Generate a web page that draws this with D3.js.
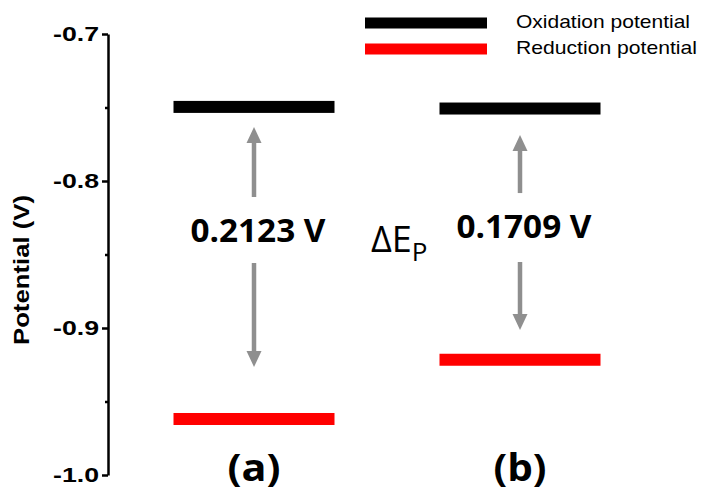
<!DOCTYPE html>
<html>
<head>
<meta charset="utf-8">
<script src="https://cdn.jsdelivr.net/npm/d3@7"></script>
<style>
  body { margin: 0; background: #fff; }
  svg { display: block; }
</style>
</head>
<body>
<svg id="chart" width="701" height="493"></svg>
<script>
// Samples and their peak potentials (V)
const samples = ["(a)", "(b)"];
const oxidation = [-0.7496, -0.7507];
const reduction = [-0.9619, -0.9216];
const deltaLabels = ["0.2123 V", "0.1709 V"];

// Double-arrow annotation extents (V): arrow tips and the gap left for the label
const arrowUpTip = [-0.7633, -0.7687];
const arrowDownTip = [-0.9265, -0.9014];
const gapTop = [-0.8109, -0.8082];
const gapBottom = [-0.8558, -0.8551];
const labelLevel = [-0.8415, -0.8388];

// Axis ticks
const yTicks = [-1.0, -0.9, -0.8, -0.7];
const yMinorTicks = [-0.95, -0.85, -0.75];
const yDomain = [-1.0, -0.7];

// Legend entries
const legendNames = ["Oxidation potential", "Reduction potential"];
const legendColors = ["#000000", "#ff0000"];

const svg = d3.select("#chart");

const y = d3.scaleLinear().domain(yDomain).range([475, 34]);
const x = d3.scalePoint().domain(samples).range([254, 520]);
const barWidth = 161;
const barHeight = 12;
const axisX = 108;
const arrowColor = "#8f8f8f";

// Y axis
const axisG = svg.append("g").attr("transform", `translate(${axisX},0)`);
axisG.call(
  d3.axisLeft(y)
    .tickValues(yTicks)
    .tickSize(6)
    .tickSizeOuter(0)
    .tickPadding(3)
    .tickFormat(d => d.toFixed(1))
);
axisG.select(".domain").attr("stroke", "#000").attr("stroke-width", 2.5);
axisG.selectAll(".tick line").attr("stroke", "#000").attr("stroke-width", 2.5);
axisG.selectAll(".tick text")
  .attr("fill", "#000")
  .style("font-family", "'Liberation Sans', Arial, sans-serif")
  .style("font-weight", "bold")
  .style("font-size", "21px")
  .attr("textLength", 46)
  .attr("lengthAdjust", "spacingAndGlyphs");

// Minor ticks
const minorG = svg.append("g").attr("transform", `translate(${axisX},0)`);
minorG.call(d3.axisLeft(y).tickValues(yMinorTicks).tickSize(3).tickSizeOuter(0).tickFormat(""));
minorG.select(".domain").remove();
minorG.selectAll(".tick line").attr("stroke", "#000").attr("stroke-width", 2.5);

// Y title
svg.append("text")
  .attr("transform", "translate(29,270) rotate(-90)")
  .attr("text-anchor", "middle")
  .style("font-family", "'Liberation Sans', Arial, sans-serif")
  .style("font-weight", "bold")
  .style("font-size", "22px")
  .attr("textLength", 150)
  .attr("lengthAdjust", "spacingAndGlyphs")
  .text("Potential (V)");

// Potential levels
const rows = samples.map((s, i) => ({
  s, ox: oxidation[i], red: reduction[i], label: deltaLabels[i],
  up: arrowUpTip[i], down: arrowDownTip[i], gt: gapTop[i], gb: gapBottom[i], lv: labelLevel[i]
}));

svg.selectAll("rect.ox").data(rows).join("rect")
  .attr("class", "ox")
  .attr("x", d => x(d.s) - barWidth / 2)
  .attr("y", d => y(d.ox) - barHeight / 2)
  .attr("width", barWidth)
  .attr("height", barHeight)
  .attr("fill", legendColors[0]);

svg.selectAll("rect.red").data(rows).join("rect")
  .attr("class", "red")
  .attr("x", d => x(d.s) - barWidth / 2)
  .attr("y", d => y(d.red) - barHeight / 2)
  .attr("width", barWidth)
  .attr("height", barHeight)
  .attr("fill", legendColors[1]);

// Double arrows marking the peak separation
const headW = 15, headH = 16, shaftW = 4.5;
const arrows = svg.selectAll("g.arrow").data(rows).join("g").attr("class", "arrow");
arrows.append("line")
  .attr("x1", d => x(d.s)).attr("x2", d => x(d.s))
  .attr("y1", d => y(d.up) + headH - 1).attr("y2", d => y(d.gt))
  .attr("stroke", arrowColor).attr("stroke-width", shaftW);
arrows.append("line")
  .attr("x1", d => x(d.s)).attr("x2", d => x(d.s))
  .attr("y1", d => y(d.gb)).attr("y2", d => y(d.down) - headH + 1)
  .attr("stroke", arrowColor).attr("stroke-width", shaftW);
arrows.append("path")
  .attr("d", d => {
    const cx = x(d.s), t = y(d.up);
    return `M${cx},${t}L${cx + headW / 2},${t + headH}L${cx - headW / 2},${t + headH}Z`;
  })
  .attr("fill", arrowColor);
arrows.append("path")
  .attr("d", d => {
    const cx = x(d.s), t = y(d.down);
    return `M${cx},${t}L${cx + headW / 2},${t - headH}L${cx - headW / 2},${t - headH}Z`;
  })
  .attr("fill", arrowColor);

// Separation labels
svg.selectAll("text.delta").data(rows).join("text")
  .attr("class", "delta")
  .attr("x", d => x(d.s) + 4)
  .attr("y", d => y(d.lv))
  .attr("text-anchor", "middle")
  .style("font-family", "'Open Sans', sans-serif")
  .style("font-weight", "bold")
  .style("font-size", "33px")
  .attr("textLength", 135)
  .attr("lengthAdjust", "spacingAndGlyphs")
  .text(d => d.label);

// Sample names
svg.selectAll("text.sample").data(rows).join("text")
  .attr("class", "sample")
  .attr("x", d => x(d.s))
  .attr("y", 481)
  .attr("text-anchor", "middle")
  .style("font-family", "'Open Sans', sans-serif")
  .style("font-weight", "bold")
  .style("font-size", "38px")
  .attr("textLength", 53)
  .attr("lengthAdjust", "spacingAndGlyphs")
  .text(d => d.s);

// Delta E_p symbol
const dE = svg.append("text")
  .attr("x", 371)
  .attr("y", 252)
  .style("font-family", "'Open Sans', sans-serif")
  .style("font-size", "36px")
  .attr("fill", "#000");
dE.append("tspan").text("\u0394E");
dE.append("tspan").attr("dy", 9).style("font-size", "26px").text("P");

// Legend
const legend = svg.append("g").selectAll("g").data(legendNames).join("g")
  .attr("transform", (d, i) => `translate(365,${23 + i * 26})`);
legend.append("rect")
  .attr("x", 0).attr("y", -5.5)
  .attr("width", 122).attr("height", 11)
  .attr("fill", (d, i) => legendColors[i]);
legend.append("text")
  .attr("x", 151)
  .attr("y", 5)
  .style("font-family", "'Liberation Sans', Arial, sans-serif")
  .style("font-size", "19px")
  .attr("fill", "#000")
  .attr("textLength", (d, i) => [174, 181][i])
  .attr("lengthAdjust", "spacingAndGlyphs")
  .text(d => d);
</script>
</body>
</html>
